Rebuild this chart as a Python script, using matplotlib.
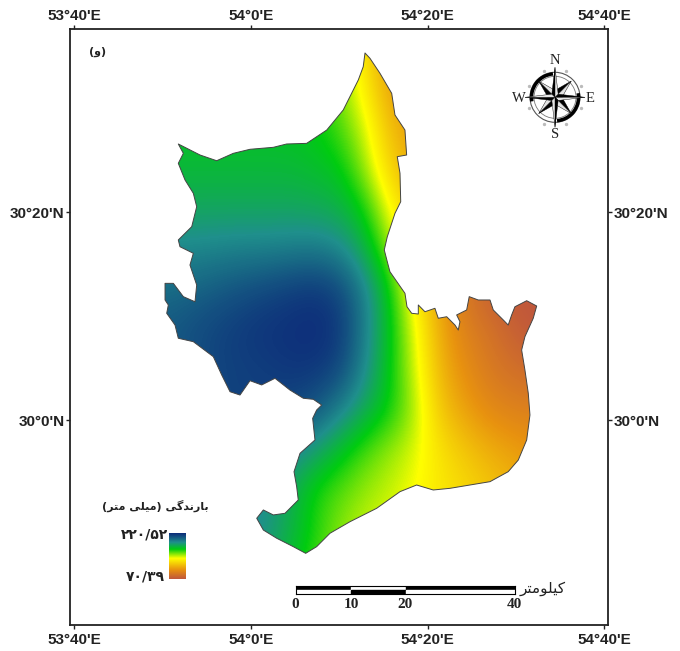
import numpy as np
import matplotlib
matplotlib.use("Agg")
import matplotlib.pyplot as plt
from matplotlib.colors import LinearSegmentedColormap
from matplotlib.patches import Arc, Circle, Polygon, Rectangle

W, H = 680, 651

# ---------------- DATA ----------------
# study area outline, arc minutes from 54 deg E / 30 deg N
outline_lon_min = [
    12.93, 13.49, 14.62, 15.95, 16.32, 17.45, 17.64, 16.58, 16.89, 16.97, 16.32, 15.45, 15.11, 15.45, 15.75,
    17.45, 17.68, 18.21, 18.96, 18.96, 19.71, 20.84, 21.22, 22.17, 23.11, 23.48, 23.67, 23.30, 24.43, 24.72,
    25.74, 27.07, 27.44, 28.57, 29.13, 29.52, 29.89, 31.22, 32.35, 31.96, 31.02, 30.65, 31.02, 31.40, 31.59,
    31.22, 30.27, 29.13, 27.07, 24.80, 22.54, 20.65, 18.77, 16.89, 14.25, 11.23, 8.97, 7.46, 6.22, 4.82,
    2.94, 1.43, 0.68, 1.43, 2.56, 3.88, 5.38, 5.20, 4.90, 5.58, 7.27, 7.01, 7.46, 8.03, 7.08,
    5.95, 4.44, 2.75, 1.24, -0.08, -1.21, -2.34, -3.28, -4.23, -6.49, -8.19, -8.56, -9.50, -9.32, -9.69,
    -9.69, -8.75, -7.62, -6.30, -6.11, -6.87, -6.49, -8.00, -8.19, -6.67, -6.11, -6.49, -7.43, -8.19, -7.62,
    -8.19, -5.73, -3.85, -1.97, -0.08, 2.56, 4.07, 6.33, 8.60, 10.47, 12.17, 12.73,
]
outline_lat_min = [
    35.29, 34.78, 33.34, 31.41, 29.33, 27.88, 25.48, 25.32, 23.72, 20.99, 19.87, 17.62, 16.35, 15.22, 14.26,
    12.18, 10.89, 10.26, 10.19, 11.06, 10.41, 10.74, 9.78, 9.93, 9.13, 8.65, 9.45, 10.10, 10.58, 11.86,
    11.54, 11.54, 10.58, 9.62, 9.13, 10.10, 10.89, 11.47, 10.96, 9.78, 8.01, 6.73, 4.81, 2.57, 0.48,
    -1.92, -3.85, -4.97, -5.93, -6.25, -6.57, -6.73, -6.25, -6.89, -8.49, -9.78, -10.89, -12.18, -12.82, -12.18,
    -11.37, -10.58, -9.45, -8.65, -9.13, -8.97, -7.69, -6.41, -4.97, -3.20, -1.92, 0.16, 0.96, 1.44, 1.99,
    2.09, 2.88, 4.01, 3.37, 3.78, 2.40, 2.72, 4.33, 6.09, 7.53, 7.86, 9.13, 10.26, 11.06, 11.54,
    13.14, 13.14, 11.86, 11.37, 12.98, 14.90, 16.03, 16.66, 17.31, 18.59, 20.51, 21.80, 23.08, 24.68, 25.64,
    26.54, 25.48, 24.93, 25.64, 26.03, 26.22, 26.54, 26.60, 27.88, 29.81, 32.69, 33.97,
]

# rainfall (mm) on a coarse lon/lat grid
grid_lon_min = [-9.69, -6.86, -4.03, -1.21, 1.62, 4.45, 7.27, 10.10, 12.93, 15.76, 18.58, 21.41, 24.24, 27.07, 29.89, 32.72]
grid_lat_min = [35.62, 31.77, 27.92, 24.08, 20.23, 16.38, 12.54, 8.69, 4.85, 1.00, -2.85, -6.69, -10.54, -14.38]
rain_mm = np.array([
    [168, 168, 168, 168, 168, 168, 168, 158, 124, 105, 100, 100, 100, 100, 100, 100],
    [170, 170, 170, 170, 170, 170, 168, 152, 133, 105, 102, 100, 100, 100, 100, 100],
    [172, 172, 172, 172, 172, 171, 169, 160, 143, 115, 105, 100, 100, 100, 100, 100],
    [175, 175, 175, 175, 175, 175, 173, 170, 150, 122, 108, 100, 100, 100, 100, 100],
    [182, 182, 182, 182, 182, 182, 181, 178, 167, 137, 118, 100, 100, 100, 100, 100],
    [193, 193, 194, 195, 195, 196, 197, 193, 178, 150, 125, 105, 95, 85, 80, 75],
    [201, 203, 206, 209, 212, 215, 217, 212, 195, 168, 130, 105, 85, 75, 70, 70],
    [207, 210, 213, 216, 218, 219, 220, 217, 195, 170, 140, 108, 92, 85, 75, 70],
    [205, 208, 213, 214, 215, 217, 217, 212, 192, 168, 143, 112, 98, 88, 83, 80],
    [208, 208, 212, 215, 214, 212, 208, 195, 180, 167, 148, 118, 105, 96, 92, 92],
    [205, 205, 205, 205, 202, 195, 185, 172, 160, 150, 142, 128, 118, 110, 105, 100],
    [195, 195, 195, 195, 190, 180, 165, 158, 150, 145, 138, 130, 125, 118, 112, 108],
    [195, 195, 195, 195, 190, 178, 165, 152, 145, 140, 135, 130, 125, 120, 115, 110],
    [190, 190, 190, 188, 182, 172, 160, 150, 142, 138, 135, 130, 125, 120, 115, 110],
], dtype=float)

rain_min, rain_max = 70.39, 220.52
lon_ticks = [53 + 40 / 60, 54.0, 54 + 20 / 60, 54 + 40 / 60]
lon_labels = ["53°40'E", "54°0'E", "54°20'E", "54°40'E"]
lat_ticks = [30.0, 30 + 20 / 60]
lat_labels = ["30°0'N", "30°20'N"]
scale_km = [0, 10, 20, 40]

# Arabic script in presentation forms, visual order (no shaping in matplotlib)
legend_title = "(\ufeae\ufe98\ufee3 \ufbfd\ufee0\ufbff\ufee3) \ufbfd\ufb94\ufeaa\ufee7\ufead\ufe8e\ufe91"
scale_unit = "\ufeae\ufe98\ufee3\ufeee\ufee0\ufbff\ufb90"
panel_label = "(\ufeed)"
legend_high = "۲۲۰/۵۲"
legend_low = "۷۰/۳۹"

cmap = LinearSegmentedColormap.from_list("rain", [
    (0.00, "#c0573c"),
    (0.20, "#e8920f"),
    (0.45, "#ffff00"),
    (0.65, "#00cc10"),
    (0.80, "#1f8f8c"),
    (1.00, "#0d2c7a"),
])

plt.rcParams["font.family"] = ["Liberation Sans", "DejaVu Sans"]
fig = plt.figure(figsize=(W / 100, H / 100), dpi=100)


def px_axes(x0, y0, x1, y1):
    return fig.add_axes([x0 / W, 1 - y1 / H, (x1 - x0) / W, (y1 - y0) / H])


def px_text(x, y, s, **kw):
    kw.setdefault("ha", "center")
    kw.setdefault("va", "center")
    fig.text(x / W, 1 - y / H, s, **kw)


# ---------------- MAP ----------------
ax = px_axes(70.3, 28.5, 608, 625)
xlim = (54 + (70.3 - 250.7) / 530.4, 54 + (608 - 250.7) / 530.4)
ylim = (30 + (420 - 625) / 624, 30 + (420 - 28.5) / 624)

grid_lon = 54 + np.array(grid_lon_min) / 60
grid_lat = 30 + np.array(grid_lat_min) / 60
dx = (grid_lon[1] - grid_lon[0]) / 2
dy = (grid_lat[0] - grid_lat[1]) / 2

boundary = Polygon(
    np.column_stack([54 + np.array(outline_lon_min) / 60, 30 + np.array(outline_lat_min) / 60]),
    closed=True, fill=False, edgecolor="#444444", linewidth=0.7, joinstyle="round", zorder=3,
)
ax.add_patch(boundary)
img = ax.imshow(
    rain_mm, cmap=cmap, vmin=rain_min, vmax=rain_max, aspect="auto", origin="upper",
    extent=(grid_lon[0] - dx, grid_lon[-1] + dx, grid_lat[-1] - dy, grid_lat[0] + dy),
    interpolation="bicubic", interpolation_stage="data", zorder=2,
)
img.set_clip_path(boundary)
ax.set_xlim(xlim)
ax.set_ylim(ylim)

ax.set_xticks(lon_ticks, lon_labels)
ax.set_yticks(lat_ticks, lat_labels)
ax.tick_params(top=True, right=True, labeltop=True, labelright=True, length=3, width=1,
               color="#222222", labelcolor="#222222", labelsize=11)
ax.tick_params(axis="x", pad=3)
ax.tick_params(axis="y", pad=1)
for t in ax.xaxis.get_major_ticks():
    t.label1.set_fontweight("bold")
    t.label2.set_fontweight("bold")
    t.label2.set_verticalalignment("baseline")
for t in ax.yaxis.get_major_ticks():
    t.label1.set_fontweight("bold")
    t.label2.set_fontweight("bold")
for side in ax.spines.values():
    side.set_linewidth(1.3)
    side.set_color("#222222")

# ---------------- LEGEND ----------------
ax_leg = px_axes(168.5, 532.7, 185, 578.7)
ax_leg.imshow(np.linspace(rain_max, rain_min, 200).reshape(-1, 1), cmap=cmap,
              vmin=rain_min, vmax=rain_max, aspect="auto")
ax_leg.axis("off")
px_text(155, 506, legend_title, family="DejaVu Sans", fontsize=8, fontweight="bold", color="#222222")
px_text(168, 534, legend_high, ha="right", family="DejaVu Sans", fontsize=10, fontweight="bold", color="#222222")
px_text(165, 577, legend_low, ha="right", family="DejaVu Sans", fontsize=10, fontweight="bold", color="#222222")
px_text(97.5, 52, panel_label, family="DejaVu Sans", fontsize=8, fontweight="bold", color="#222222")

# ---------------- SCALE BAR ----------------
ax_scale = px_axes(296, 586, 515, 594)
ax_scale.set_xlim(scale_km[0], scale_km[-1])
ax_scale.set_ylim(0, 2)
ax_scale.set_xticks([])
ax_scale.set_yticks([])
for i in range(len(scale_km) - 1):
    top_black = i % 2 == 0
    ax_scale.add_patch(Rectangle((scale_km[i], 1), scale_km[i + 1] - scale_km[i], 1,
                                 color="black" if top_black else "white"))
    ax_scale.add_patch(Rectangle((scale_km[i], 0), scale_km[i + 1] - scale_km[i], 1,
                                 color="white" if top_black else "black"))
for side in ax_scale.spines.values():
    side.set_linewidth(0.8)
for km, x in zip(scale_km, [295.5, 351, 405, 514.5]):
    px_text(x, 605, str(km), family="Liberation Serif", fontsize=11, fontweight="bold", color="#222222")
px_text(543, 589, scale_unit, family="DejaVu Sans", fontsize=11, color="#222222")

# ---------------- NORTH ARROW ----------------
ax_n = px_axes(521, 63.3, 589, 131.3)
ax_n.set_xlim(-34, 34)
ax_n.set_ylim(-34, 34)
ax_n.axis("off")
ax_n.add_patch(Circle((0, 0), 25, fill=False, edgecolor="#555555", linewidth=0.8))
ax_n.add_patch(Circle((0, 0), 21, fill=False, edgecolor="#777777", linewidth=0.6))
ax_n.add_patch(Arc((0, 0), 47, 47, theta1=95, theta2=190, color="black", linewidth=2.5))
ax_n.add_patch(Arc((0, 0), 47, 47, theta1=275, theta2=370, color="black", linewidth=2.5))
for a in np.deg2rad(np.arange(22.5, 360, 45)):
    ax_n.plot(28.5 * np.cos(a), 28.5 * np.sin(a), "o", ms=1.4, color="#bbbbbb")
for deg, r, base in [(d, 23, 7) for d in range(45, 360, 90)] + [(d, 30, 4.5) for d in range(0, 360, 90)]:
    a = np.deg2rad(deg)
    tip = (r * np.cos(a), r * np.sin(a))
    left = (base * np.cos(a + np.pi / 4), base * np.sin(a + np.pi / 4))
    right = (base * np.cos(a - np.pi / 4), base * np.sin(a - np.pi / 4))
    ax_n.add_patch(Polygon([(0, 0), tip, left], facecolor="black", edgecolor="black", linewidth=0.3, zorder=3))
    ax_n.add_patch(Polygon([(0, 0), tip, right], facecolor="#e4e4e4", edgecolor="black", linewidth=0.3, zorder=3))
for x, y, s in [(555, 60, "N"), (555, 135, "S"), (519, 98, "W"), (590.5, 99, "E")]:
    px_text(x, y, s, family="Liberation Serif", fontsize=10.5, color="#222222")

fig.savefig("out.png", dpi=100)
